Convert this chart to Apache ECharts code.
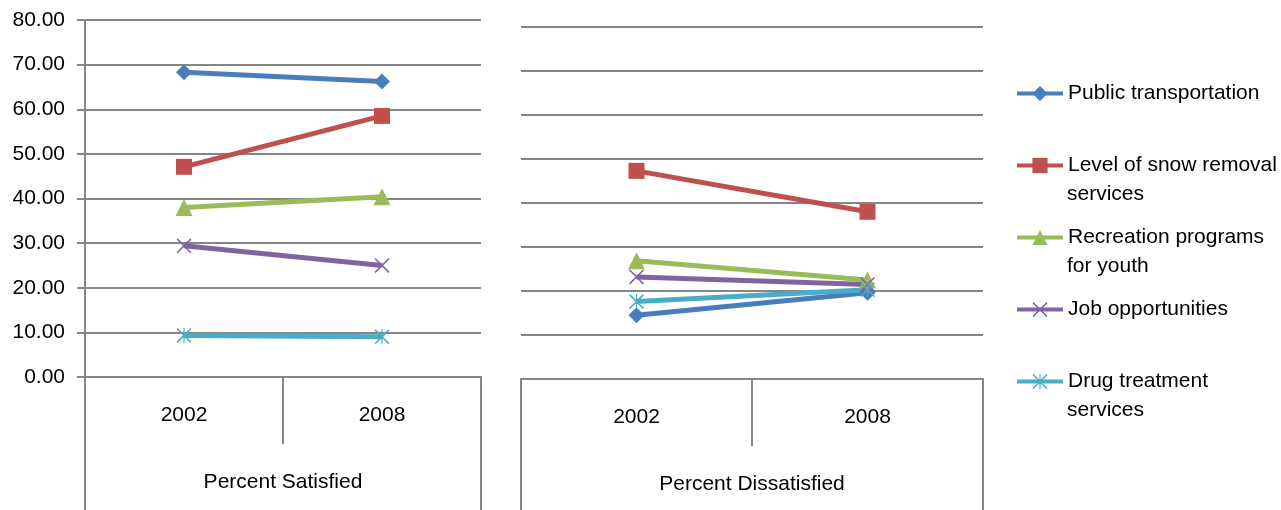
<!DOCTYPE html>
<html>
<head>
<meta charset="utf-8">
<script src="https://cdn.jsdelivr.net/npm/echarts@6/dist/echarts.min.js"></script>
<style>
  html, body { margin: 0; padding: 0; background: #fff; }
  #chart { width: 1281px; height: 510px; }
</style>
</head>
<body>
<div id="chart"></div>
<script>
// Survey years and the two response groups
const years = ['2002', '2008'];
const groups = ['Percent Satisfied', 'Percent Dissatisfied'];

// Value axis range
const yMin = 0;
const yMax = 80;
const yStep = 10;

// Service names (legend)
const services = [
  'Public transportation',
  'Level of snow removal services',
  'Recreation programs for youth',
  'Job opportunities',
  'Drug treatment services'
];

// Percent satisfied, per service [2002, 2008]
const satPublic = [68.3, 66.2];
const satSnow = [47.1, 58.5];
const satRecreation = [38.0, 40.4];
const satJobs = [29.4, 25.0];
const satDrug = [9.3, 9.0];

// Percent dissatisfied, per service [2002, 2008]
const disPublic = [14.5, 19.6];
const disSnow = [47.3, 38.0];
const disRecreation = [26.9, 22.5];
const disJobs = [23.2, 21.5];
const disDrug = [17.6, 20.3];

const FONT = '"Liberation Sans", Arial, sans-serif';
const GRID_GRAY = '#868686';
const colors = ['#4A7EBB', '#C0504D', '#9BBB59', '#8064A2', '#4BACC6'];

const xMarkPath = 'path://M0,1.5 L1.5,0 L20,18.5 L18.5,20 Z M18.5,0 L20,1.5 L1.5,20 L0,18.5 Z';
const starMarkPath = 'path://M0,1.5 L1.5,0 L20,18.5 L18.5,20 Z M18.5,0 L20,1.5 L1.5,20 L0,18.5 Z M9.2,0 L10.8,0 L10.8,20 L9.2,20 Z';
const symbols = ['diamond', 'rect', 'triangle', xMarkPath, starMarkPath];
const symbolSizes = [16, 16, 17, 15, 15];

const satData = [satPublic, satSnow, satRecreation, satJobs, satDrug];
const disData = [disPublic, disSnow, disRecreation, disJobs, disDrug];

// Legend rows: first line in the legend, wrapped remainder drawn underneath
const firstLines = {
  'Public transportation': 'Public transportation',
  'Level of snow removal services': 'Level of snow removal',
  'Recreation programs for youth': 'Recreation programs',
  'Job opportunities': 'Job opportunities',
  'Drug treatment services': 'Drug treatment'
};
const secondLines = ['', 'services', 'for youth', '', 'services'];

const legendLeft = 1015;
const legendTop = 81;
const legendRowH = 25;
const legendStep = 72;
const legendIconW = 46;

const grids = [
  { left: 85, top: 20, width: 396, height: 357 },
  { left: 521, top: 27, width: 462, height: 352 }
];

function yearAxis(gridIndex) {
  return {
    type: 'category', gridIndex, data: years, position: 'bottom',
    boundaryGap: true,
    axisLine: { show: true, lineStyle: { color: GRID_GRAY, width: 2 } },
    axisTick: { show: true, inside: false, length: 67, interval: 0, lineStyle: { color: GRID_GRAY, width: 2 } },
    axisLabel: { margin: 28, color: '#000', fontSize: 21, fontFamily: FONT, interval: 0 },
    splitLine: { show: false }
  };
}
function groupAxis(gridIndex) {
  return {
    type: 'category', gridIndex, data: [groups[gridIndex]], position: 'bottom',
    boundaryGap: true,
    axisLine: { show: false },
    axisTick: { show: true, length: 140, interval: 0, lineStyle: { color: GRID_GRAY, width: 2 } },
    axisLabel: { margin: 95, color: '#000', fontSize: 21, fontFamily: FONT, interval: 0 },
    splitLine: { show: false }
  };
}

const series = [];
[satData, disData].forEach((block, gi) => {
  block.forEach((vals, si) => {
    series.push({
      name: services[si],
      type: 'line',
      xAxisIndex: gi * 2,
      yAxisIndex: gi,
      data: vals,
      symbol: symbols[si],
      symbolSize: symbolSizes[si],
      showAllSymbol: true,
      lineStyle: { color: colors[si], width: 5 },
      itemStyle: { color: colors[si], borderWidth: 0 },
      emphasis: { disabled: true },
      animation: false
    });
  });
});

const graphic = secondLines.map((txt, i) => ({
  type: 'text',
  left: legendLeft + legendIconW + 6,
  top: legendTop + i * legendStep + legendRowH + 6,
  style: { text: txt, fill: '#000', font: '21px ' + FONT },
  silent: true
})).filter(g => g.style.text);

const option = {
  backgroundColor: '#fff',
  animation: false,
  grid: grids,
  xAxis: [yearAxis(0), groupAxis(0), yearAxis(1), groupAxis(1)],
  yAxis: [
    {
      type: 'value', gridIndex: 0, min: yMin, max: yMax, interval: yStep,
      axisLine: { show: true, lineStyle: { color: GRID_GRAY, width: 2 } },
      axisTick: { show: true, length: 8, lineStyle: { color: GRID_GRAY, width: 2 } },
      axisLabel: { margin: 20, color: '#000', fontSize: 21, fontFamily: FONT, formatter: v => v.toFixed(2) },
      splitLine: { show: true, lineStyle: { color: GRID_GRAY, width: 2 } }
    },
    {
      type: 'value', gridIndex: 1, min: yMin, max: yMax, interval: yStep,
      axisLine: { show: false },
      axisTick: { show: false },
      axisLabel: { show: false },
      splitLine: { show: true, lineStyle: { color: GRID_GRAY, width: 2 } }
    }
  ],
  legend: {
    orient: 'vertical',
    left: legendLeft,
    top: legendTop,
    itemWidth: legendIconW,
    itemHeight: 19,
    itemGap: legendStep - legendRowH,
    padding: 0,
    data: services,
    formatter: name => firstLines[name],
    lineStyle: { width: 4 },
    textStyle: { color: '#000', fontSize: 21, fontFamily: FONT, lineHeight: legendRowH }
  },
  graphic,
  series
};

const chart = echarts.init(document.getElementById('chart'), null, { renderer: 'canvas' });
chart.setOption(option);
</script>
</body>
</html>
